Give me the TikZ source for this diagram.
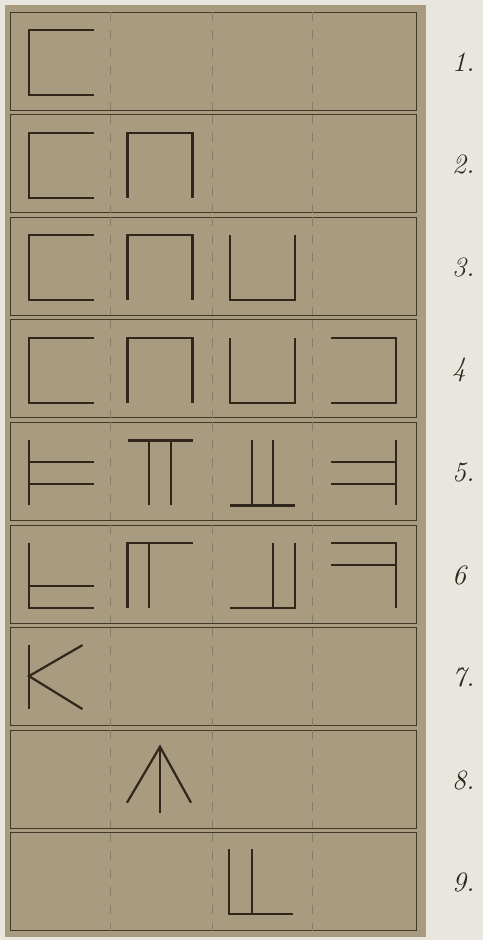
\documentclass[tikz,border=0pt]{standalone}
\usepackage{tikz}
\definecolor{paper}{RGB}{232,230,222}
\definecolor{card}{RGB}{168,155,128}
\definecolor{ink}{RGB}{48,38,26}
\definecolor{guidecol}{RGB}{135,124,100}
\begin{document}
\begin{tikzpicture}[x=1pt,y=-1pt,
    glyph/.style={ink, line width=2.2pt},
    frame/.style={ink!85!card, line width=1pt},
    guideline/.style={guidecol, line width=0.8pt, dash pattern=on 9pt off 9pt},
    number/.style={anchor=west, ink, font=\fontsize{28}{28}\selectfont\itshape, inner sep=0pt}]
    \fill[paper] (0,0) rectangle (483,940);
    \fill[card] (5,5) rectangle (426,937);
    % nine strips, four cells each
    \foreach \r/\lab in {1/1.,2/2.,3/3.,4/4,5/5.,6/6,7/7.,8/8.,9/9.} {
        \pgfmathsetmacro\rowtop{12+(\r-1)*102.6}
        \pgfmathsetmacro\rowbot{\rowtop+98}
        \draw[frame] (10,\rowtop) rectangle (416,\rowbot);
        \foreach \gx in {110,212,312} {\draw[guideline] (\gx,\rowtop) -- (\gx,\rowbot);}
        \foreach \c/\cx in {1/61.5,2/160,3/262.5,4/363.5} {\coordinate (c\r\c) at (\cx,\rowtop+50.5);}
        \node[number] (n\r) at (452,\rowtop+50) {\lab};
    }
    % rows 1-4
    \foreach \r in {1,...,4} {\draw[glyph, shift={(c\r1)}] (32.5,-32.5) -- (-32.5,-32.5) -- (-32.5,32.5) -- (32.5,32.5);}
    \foreach \r in {2,3,4} {\draw[glyph, shift={(c\r2)}] (-32.5,32.5) -- (-32.5,-32.5) -- (32.5,-32.5) -- (32.5,32.5);}
    \foreach \r in {3,4} {\draw[glyph, shift={(c\r3)}] (-32.5,-32.5) -- (-32.5,32.5) -- (32.5,32.5) -- (32.5,-32.5);}
    \draw[glyph, shift={(c44)}] (-32.5,-32.5) -- (32.5,-32.5) -- (32.5,32.5) -- (-32.5,32.5);
    % row 5
    \begin{scope}[shift={(c51)}]
        \draw[glyph] (-32.5,-32.5) -- (-32.5,32.5);
        \draw[glyph] (-32.5,-10.8) -- (32.5,-10.8);
        \draw[glyph] (-32.5,10.8) -- (32.5,10.8);
    \end{scope}
    \begin{scope}[shift={(c52)}]
        \draw[glyph] (-32.5,-32.5) -- (32.5,-32.5);
        \draw[glyph] (-10.8,-32.5) -- (-10.8,32.5);
        \draw[glyph] (10.8,-32.5) -- (10.8,32.5);
    \end{scope}
    \begin{scope}[shift={(c53)}]
        \draw[glyph] (-32.5,32.5) -- (32.5,32.5);
        \draw[glyph] (-10.8,-32.5) -- (-10.8,32.5);
        \draw[glyph] (10.8,-32.5) -- (10.8,32.5);
    \end{scope}
    \begin{scope}[shift={(c54)}]
        \draw[glyph] (32.5,-32.5) -- (32.5,32.5);
        \draw[glyph] (-32.5,-10.8) -- (32.5,-10.8);
        \draw[glyph] (-32.5,10.8) -- (32.5,10.8);
    \end{scope}
    % row 6
    \begin{scope}[shift={(c61)}]
        \draw[glyph] (-32.5,-32.5) -- (-32.5,32.5) -- (32.5,32.5);
        \draw[glyph] (-32.5,10.8) -- (32.5,10.8);
    \end{scope}
    \begin{scope}[shift={(c62)}]
        \draw[glyph] (-32.5,32.5) -- (-32.5,-32.5) -- (32.5,-32.5);
        \draw[glyph] (-10.8,-32.5) -- (-10.8,32.5);
    \end{scope}
    \begin{scope}[shift={(c63)}]
        \draw[glyph] (-32.5,32.5) -- (32.5,32.5) -- (32.5,-32.5);
        \draw[glyph] (10.8,-32.5) -- (10.8,32.5);
    \end{scope}
    \begin{scope}[shift={(c64)}]
        \draw[glyph] (-32.5,-32.5) -- (32.5,-32.5) -- (32.5,32.5);
        \draw[glyph] (-32.5,-10.8) -- (32.5,-10.8);
    \end{scope}
    % rows 7-9
    \begin{scope}[shift={(c71)}]
        \draw[glyph] (-32.5,-33) -- (-32.5,31);
        \draw[glyph] (21,-33) -- (-32.5,-2) -- (21,31);
    \end{scope}
    \begin{scope}[shift={(c82)}]
        \draw[glyph] (0,-34) -- (0,32);
        \draw[glyph] (-33,22) -- (0,-34) -- (31,22);
    \end{scope}
    \begin{scope}[shift={(c93)}]
        \draw[glyph] (-33.5,-34) -- (-33.5,31) -- (30.5,31);
        \draw[glyph] (-10.5,-34) -- (-10.5,31);
    \end{scope}
\end{tikzpicture}
\end{document}
